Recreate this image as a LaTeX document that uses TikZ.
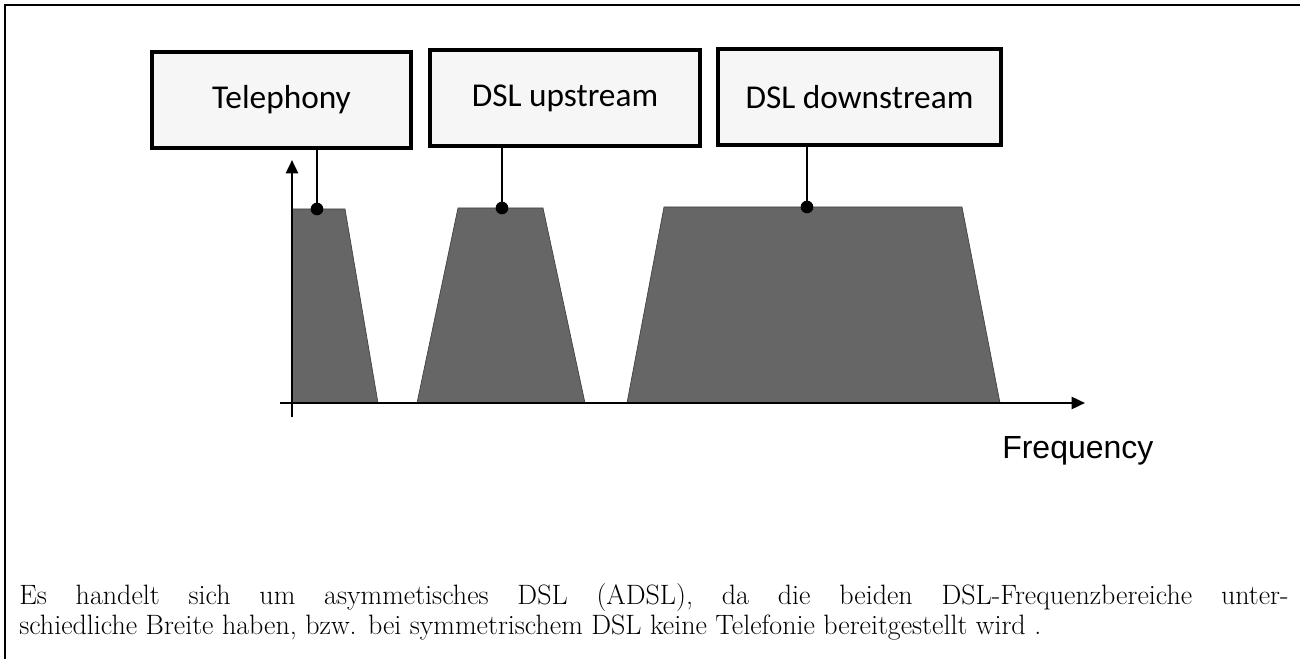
\documentclass[tikz,border=0pt]{standalone}
\usepackage{fontspec}
\setsansfont{Liberation Sans}
\newfontfamily\boxfont{Carlito}
\usetikzlibrary{arrows.meta}
\begin{document}
\begin{tikzpicture}[x=0.75pt,y=-0.75pt,
  labelbox/.style={draw=black,line width=3pt,fill=gray!7,inner sep=0pt,
    minimum height=72pt,font=\boxfont\fontsize{25}{30}\selectfont},
  band/.style={fill=black!60,draw=black!75,line width=0.5pt},
  dot/.style={circle,fill=black,inner sep=0pt,minimum size=9.5pt},
  link/.style={line width=1.5pt},
  axis/.style={line width=1.8pt,-{Triangle[length=10pt,width=9pt]}},
  frameline/.style={line width=1.5pt},
  para/.style={anchor=base west,inner sep=0pt,font=\fontsize{21}{25}\selectfont}]
\useasboundingbox (0,0) rectangle (1300,659);

% outer frame (top and left edge)
\draw[frameline] (5,659) -- (5,5) -- (1300,5);

% label boxes
\node[labelbox,minimum width=194pt] (tel) at (281.5,100) {Telephony};
\node[labelbox,minimum width=202.5pt] (up) at (565,98) {DSL upstream};
\node[labelbox,minimum width=212pt] (down) at (859.5,97) {DSL downstream};

% frequency bands
\fill[band] (292,403) -- (292,209) -- (345,209) -- (378,403) -- cycle;
\fill[band] (417,403) -- (458,208) -- (543,208) -- (585,403) -- cycle;
\fill[band] (627,403) -- (664,207) -- (962,207) -- (1000,403) -- cycle;

% axes
\coordinate (yfoot) at (292,417);
\coordinate (ytip) at (292,160);
\coordinate (xfoot) at (280,403);
\coordinate (xtip) at (1085,403);
\draw[axis] (yfoot) -- (ytip);
\draw[axis] (xfoot) -- (xtip);

% markers and their links to the labels
\node[dot] (dtel) at (317,209) {};
\node[dot] (dup) at (502,208) {};
\node[dot] (ddown) at (807,207) {};
\draw[link] (tel.south -| dtel) -- (dtel.center);
\draw[link] (up.south -| dup) -- (dup.center);
\draw[link] (down.south -| ddown) -- (ddown.center);

\node[anchor=base west,inner sep=0pt,font=\sffamily\fontsize{24}{28}\selectfont] (freq) at (1002,458) {Frequency};

% answer text
\node[para] (line1) at (19,604) {\hbox to 952pt{Es handelt sich um asymmetisches DSL (ADSL), da die beiden DSL-Frequenzbereiche unter-}};
\node[para] (line2) at (19,634) {schiedliche Breite haben, bzw. bei symmetrischem DSL keine Telefonie bereitgestellt wird .};
\end{tikzpicture}
\end{document}
